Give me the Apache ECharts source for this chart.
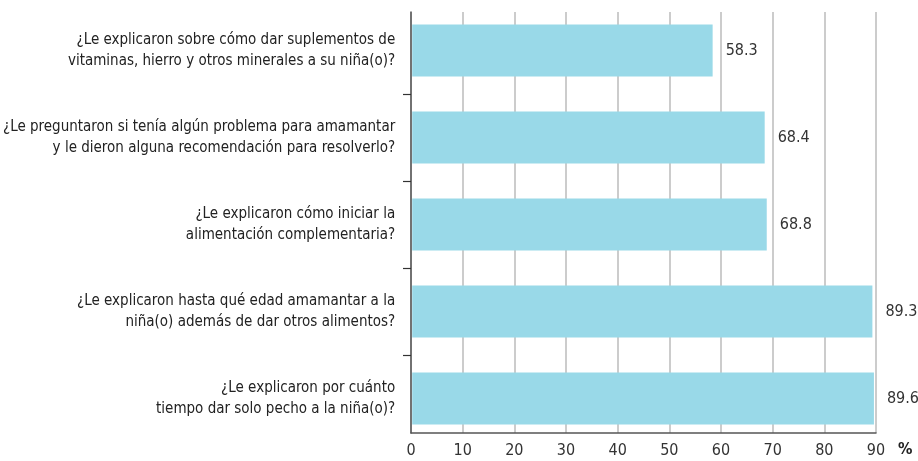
<!DOCTYPE html>
<html>
<head>
    <meta charset="utf-8" />
    <title>ECharts</title>
    <style>
        body { margin: 0; background: #fff; }
        #main { width: 918px; height: 461px; }
    </style>
    <script src="https://cdn.jsdelivr.net/npm/echarts@6/dist/echarts.min.js"></script>
</head>
<body>
    <div id="main"></div>
    <script type="text/javascript">
        // preguntas (de arriba hacia abajo)
        const preguntas = [
            '¿Le explicaron sobre cómo dar suplementos de\nvitaminas, hierro y otros minerales a su niña(o)?',
            '¿Le preguntaron si tenía algún problema para amamantar\ny le dieron alguna recomendación para resolverlo?',
            '¿Le explicaron cómo iniciar la\nalimentación complementaria?',
            '¿Le explicaron hasta qué edad amamantar a la\nniña(o) además de dar otros alimentos?',
            '¿Le explicaron por cuánto\ntiempo dar solo pecho a la niña(o)?'
        ];
        const porcentajes = [58.3, 68.4, 68.8, 89.3, 89.6];

        const fuente = '"Liberation Sans Narrow", "DejaVu Sans Condensed", sans-serif';

        var myChart = echarts.init(document.getElementById('main'));
        var option = {
            animation: false,
            // grid 0: barras; grid 1: ejes visibles; grid 2: marcas entre preguntas
            grid: [
                { left: 411, right: 42, top: 7, bottom: 19 },
                { left: 411, right: 42, top: 12, bottom: 28 },
                { left: 411, right: 42, top: 94, bottom: 106 }
            ],
            xAxis: [{
                gridIndex: 0,
                type: 'value',
                min: 0,
                max: 90,
                show: false
            }, {
                gridIndex: 1,
                type: 'value',
                min: 0,
                max: 90,
                interval: 10,
                name: '%',
                nameLocation: 'end',
                nameGap: 22,
                nameTextStyle: { fontFamily: fuente, fontSize: 16, fontWeight: 'bold', color: '#222', verticalAlign: 'top', padding: [9, 0, 0, 0] },
                axisLine: { show: true, lineStyle: { color: '#555', width: 1.5 } },
                axisTick: { show: false },
                axisLabel: { fontFamily: fuente, fontSize: 16, color: '#333', margin: 10 },
                splitLine: { show: true, lineStyle: { color: '#bbb', width: 1.5 } }
            }, {
                gridIndex: 2,
                type: 'value',
                min: 0,
                max: 1,
                show: false
            }],
            yAxis: [{
                gridIndex: 0,
                type: 'category',
                data: preguntas,
                inverse: true,
                axisLine: { show: false },
                axisTick: { show: false },
                axisLabel: { fontFamily: fuente, fontSize: 15, color: '#222', lineHeight: 21, align: 'right', margin: 17 }
            }, {
                gridIndex: 1,
                type: 'value',
                min: 0,
                max: 1,
                axisLine: { show: true, lineStyle: { color: '#555', width: 1.5 } },
                axisTick: { show: false },
                axisLabel: { show: false },
                splitLine: { show: false }
            }, {
                gridIndex: 2,
                type: 'value',
                min: 0,
                max: 3,
                interval: 1,
                axisLine: { show: false },
                axisTick: { show: true, length: 8, lineStyle: { color: '#333', width: 1.2 } },
                axisLabel: { show: false },
                splitLine: { show: false }
            }],
            series: [{
                type: 'bar',
                xAxisIndex: 0,
                yAxisIndex: 0,
                data: porcentajes,
                barWidth: 52,
                itemStyle: { color: '#99d9e8' },
                label: {
                    show: true,
                    position: 'right',
                    distance: 13,
                    fontFamily: fuente,
                    fontSize: 16,
                    color: '#333',
                    formatter: function (p) { return p.value.toFixed(1); }
                }
            }]
        };
        myChart.setOption(option);
    </script>
</body>
</html>
